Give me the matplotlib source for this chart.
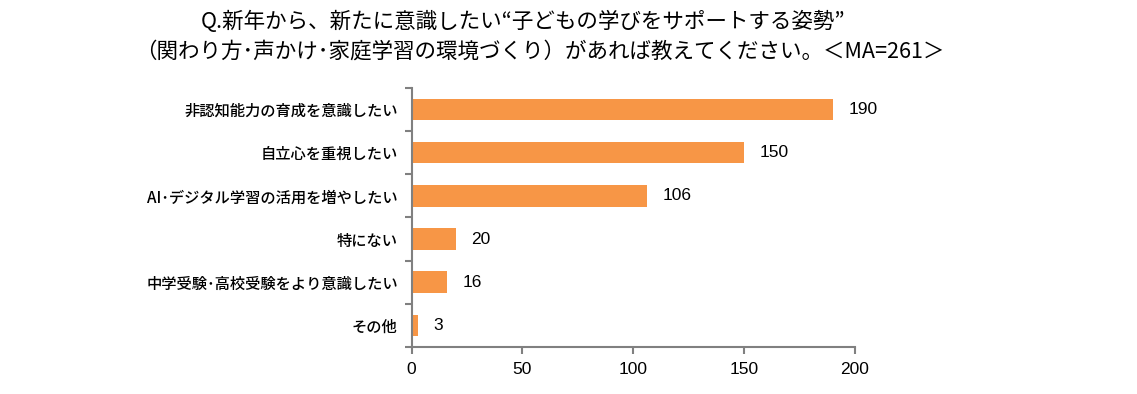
import matplotlib.pyplot as plt
import numpy as np

plt.rcParams['font.family'] = ['Noto Sans CJK JP', 'DejaVu Sans']

# data
categories = ["非認知能力の育成を意識したい", "自立心を重視したい", "AI･デジタル学習の活用を増やしたい",
              "特にない", "中学受験･高校受験をより意識したい", "その他"]
values = [190, 150, 106, 20, 16, 3]
xticks = [0, 50, 100, 150, 200]
title1 = "Q.新年から、新たに意識したい“子どもの学びをサポートする姿勢”"
title2 = "（関わり方･声かけ･家庭学習の環境づくり）があれば教えてください。＜MA=261＞"

fig = plt.figure(figsize=(11.37, 3.94), dpi=100)
ax = fig.add_axes([0.362, 0.119, 0.390, 0.658])

y = np.arange(len(categories))
ax.barh(y, values, height=0.5, color="#F79646")
for yi, v in zip(y, values):
    ax.text(v + 7, yi, str(v), va="center", ha="left", fontsize=12.5, family="Liberation Sans")

ax.set_ylim(len(categories) - 0.5, -0.5)
ax.set_xlim(0, 200)
ax.set_xticks(xticks)
ax.set_xticklabels([str(t) for t in xticks], fontsize=12.5, family="Liberation Sans")
ax.set_yticks(y)
ax.set_yticklabels(categories, fontsize=11, fontweight="medium")
ax.set_yticks(np.arange(-0.5, len(categories), 1), minor=True)
ax.tick_params(axis="y", which="major", length=0, pad=10)
ax.tick_params(axis="y", which="minor", length=5, color="#808080", width=1.5)
ax.tick_params(axis="x", length=5, color="#808080", width=1.5, pad=6)

for s in ["top", "right"]:
    ax.spines[s].set_visible(False)
for s in ["left", "bottom"]:
    ax.spines[s].set_color("#808080")
    ax.spines[s].set_linewidth(1.5)

fig.text(0.460, 0.945, title1, ha="center", va="center", fontsize=15.5)
fig.text(0.475, 0.870, title2, ha="center", va="center", fontsize=15.5)

fig.savefig("out.png", dpi=100)
